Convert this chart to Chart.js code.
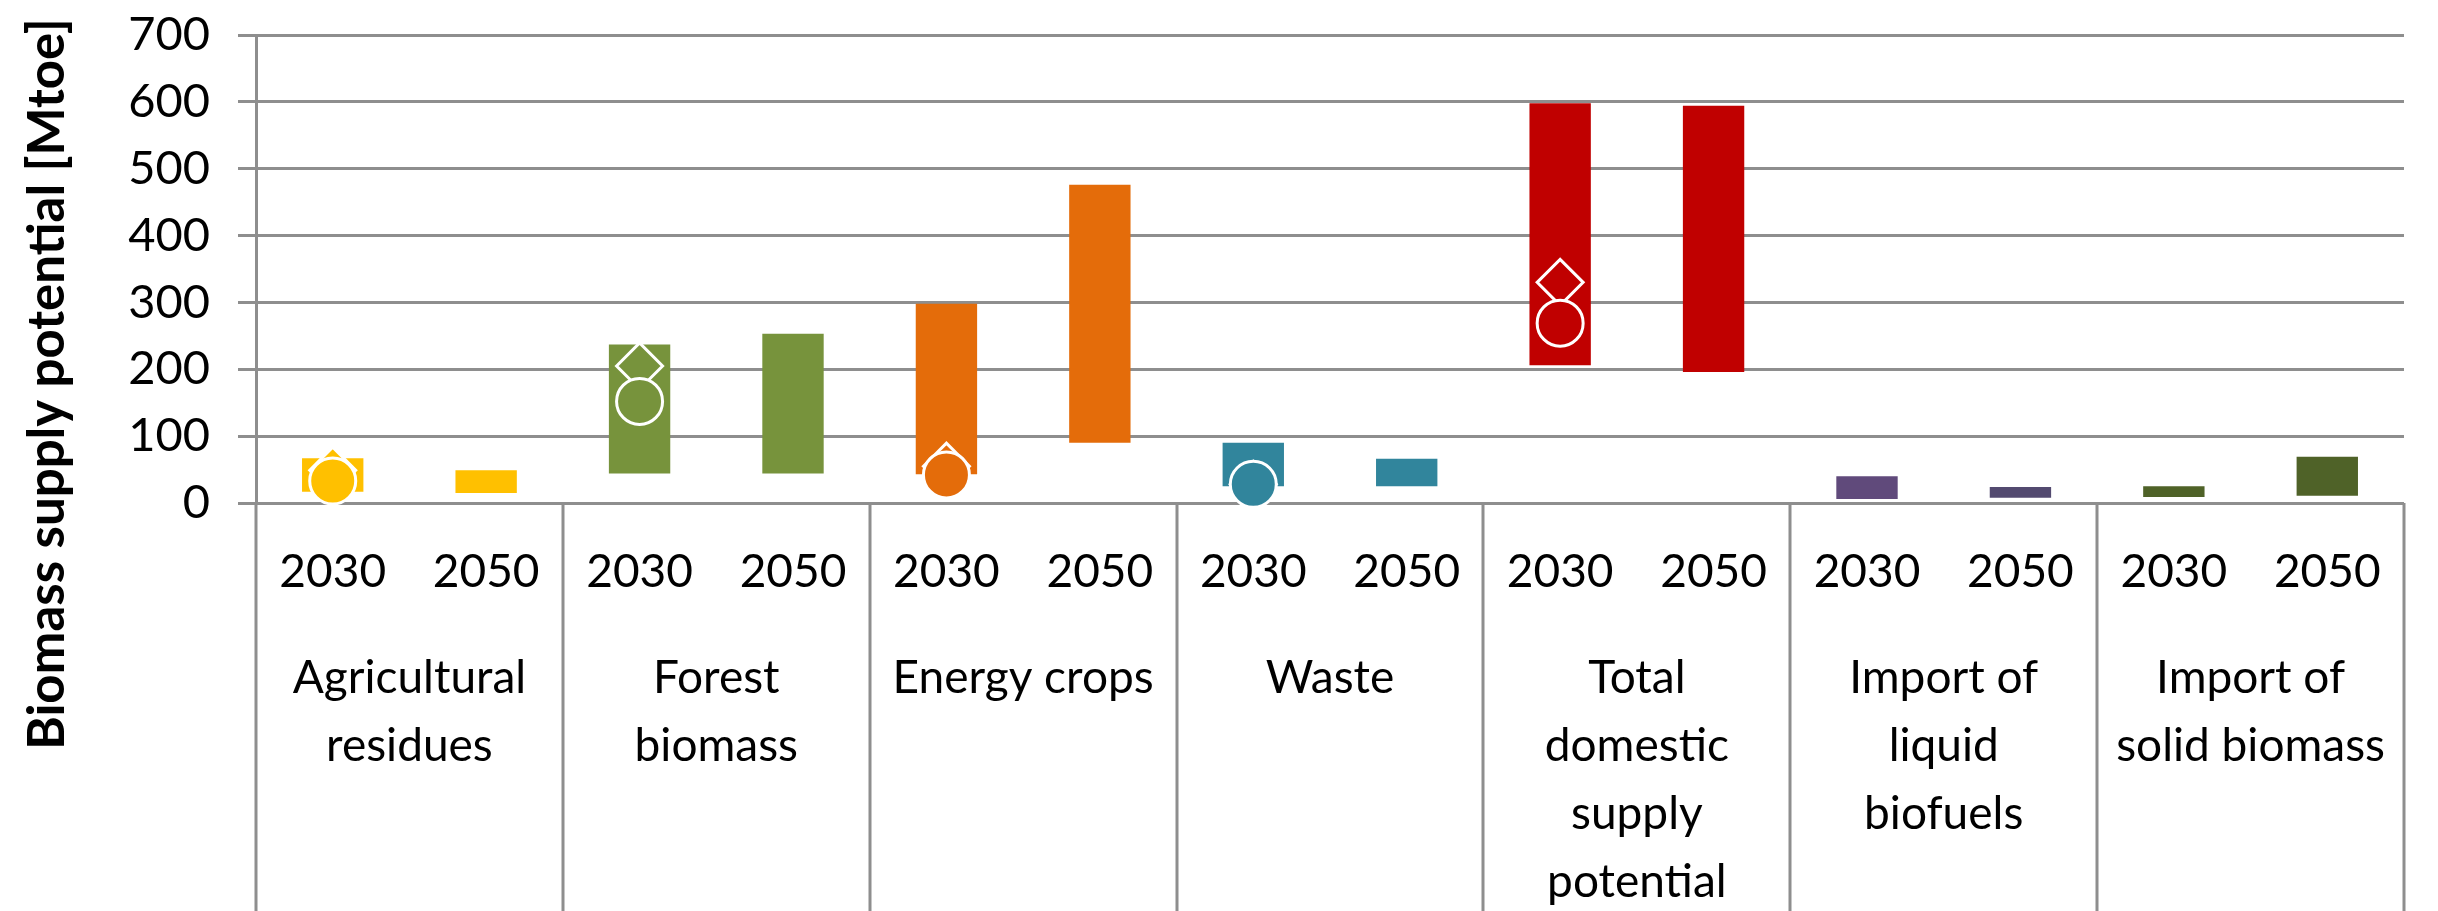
<!DOCTYPE html>
<html>
<head>
<meta charset="utf-8">
<script src="https://cdn.jsdelivr.net/npm/chart.js@4.4.1/dist/chart.umd.min.js"></script>
<style>
  html, body { margin: 0; padding: 0; background: #ffffff; }
  #wrap { width: 2438px; height: 911px; }
</style>
</head>
<body>
<div id="wrap"><canvas id="c" width="2438" height="911"></canvas></div>
<script>
// ---- data ----
const categoryLabels = [
  ['Agricultural', 'residues'],
  ['Forest', 'biomass'],
  ['Energy crops'],
  ['Waste'],
  ['Total', 'domestic', 'supply', 'potential'],
  ['Import of', 'liquid', 'biofuels'],
  ['Import of', 'solid biomass']
];
const yearLabels = ['2030', '2050', '2030', '2050', '2030', '2050', '2030', '2050',
                    '2030', '2050', '2030', '2050', '2030', '2050'];
const lowValues  = [17, 15, 44, 44, 43, 90, 25, 25, 206, 196, 6, 8, 9, 11];
const highValues = [67, 49, 237, 253, 298, 476, 90, 66, 598, 594, 40, 24, 25, 69];
const diamondValues = [49, null, 205, null, 55, null, 28, null, 330, null, null, null, null, null];
const circleValues  = [33, null, 152, null, 42, null, 28, null, 269, null, null, null, null, null];
const yTicks = [0, 100, 200, 300, 400, 500, 600, 700];
const yTitle = 'Biomass supply potential [Mtoe]';

// ---- styles ----
const barColors = ['#FFC000', '#FFC000', '#77933C', '#77933C', '#E46C0A', '#E46C0A',
                   '#31859C', '#31859C', '#C00000', '#C00000', '#604A7B', '#534A70',
                   '#4F6228', '#4F6228'];
const gridColor = '#8e8e8e';
const FONT = 'Lato';

const overlay = {
  id: 'overlay',
  afterDraw(chart) {
    const { ctx, chartArea } = chart;
    const xs = chart.scales.x2;
    ctx.save();
    ctx.strokeStyle = gridColor;
    ctx.lineWidth = 3;
    for (let k = 0; k <= categoryLabels.length; k++) {
      const px = Math.round(xs.getPixelForValue(k - 0.5));
      ctx.beginPath();
      ctx.moveTo(px, chartArea.bottom);
      ctx.lineTo(px, chart.height);
      ctx.stroke();
    }
    ctx.fillStyle = '#000';
    ctx.font = 'bold 51px ' + FONT;
    ctx.translate(48, 384);
    ctx.rotate(-Math.PI / 2);
    ctx.textAlign = 'center';
    ctx.textBaseline = 'middle';
    ctx.fillText(yTitle, 0, 0);
    ctx.restore();
  }
};

new Chart(document.getElementById('c'), {
  type: 'bar',
  data: {
    labels: yearLabels,
    datasets: [
      {
        type: 'line',
        label: 'circle',
        data: circleValues,
        showLine: false,
        pointStyle: 'circle',
        pointRadius: 23,
        pointBackgroundColor: barColors,
        pointBorderColor: '#ffffff',
        pointBorderWidth: 3,
        order: 1,
        clip: false,
        xAxisID: 'x', yAxisID: 'y'
      },
      {
        type: 'line',
        label: 'diamond',
        data: diamondValues,
        showLine: false,
        pointStyle: 'rectRot',
        pointRadius: 23,
        pointBackgroundColor: barColors,
        pointBorderColor: '#ffffff',
        pointBorderWidth: 3,
        order: 2,
        clip: false,
        xAxisID: 'x', yAxisID: 'y'
      },
      {
        type: 'bar',
        label: 'range',
        data: lowValues.map((v, i) => [v, highValues[i]]),
        backgroundColor: barColors,
        borderWidth: 0,
        barPercentage: 0.4,
        categoryPercentage: 1.0,
        order: 3,
        xAxisID: 'x', yAxisID: 'y'
      }
    ]
  },
  options: {
    responsive: false,
    devicePixelRatio: 1,
    animation: false,
    layout: { padding: { top: 35, right: 34, bottom: 0, left: 0 } },
    plugins: { legend: { display: false }, tooltip: { enabled: false } },
    scales: {
      y: {
        min: 0, max: 700,
        afterBuildTicks(scale) { scale.ticks = yTicks.map(v => ({ value: v })); },
        afterFit(scale) { scale.width = 256; scale.paddingTop = 0; scale.paddingBottom = 0; },
        ticks: { font: { family: FONT, size: 47 }, color: '#000', padding: 28 },
        grid: { color: gridColor, lineWidth: 3, tickLength: 18, tickColor: gridColor, tickWidth: 3 },
        border: { display: true, color: gridColor, width: 3 }
      },
      x: {
        type: 'category',
        position: 'bottom',
        weight: 0,
        offset: true,
        afterFit(scale) { scale.height = 110; scale.paddingLeft = 0; scale.paddingRight = 0; },
        ticks: { font: { family: FONT, size: 46 }, color: '#000', padding: 42,
                 autoSkip: false, maxRotation: 0, minRotation: 0 },
        grid: { display: false, drawTicks: false },
        border: { display: false }
      },
      x2: {
        type: 'category',
        position: 'bottom',
        weight: 1,
        offset: true,
        labels: categoryLabels,
        afterFit(scale) { scale.height = 298; scale.paddingLeft = 0; scale.paddingRight = 0; },
        ticks: { font: { family: FONT, size: 46, lineHeight: 1.48 }, color: '#000', padding: 31,
                 autoSkip: false, maxRotation: 0, minRotation: 0 },
        grid: { display: false, drawTicks: false },
        border: { display: false }
      }
    }
  },
  plugins: [overlay]
});
</script>
</body>
</html>
